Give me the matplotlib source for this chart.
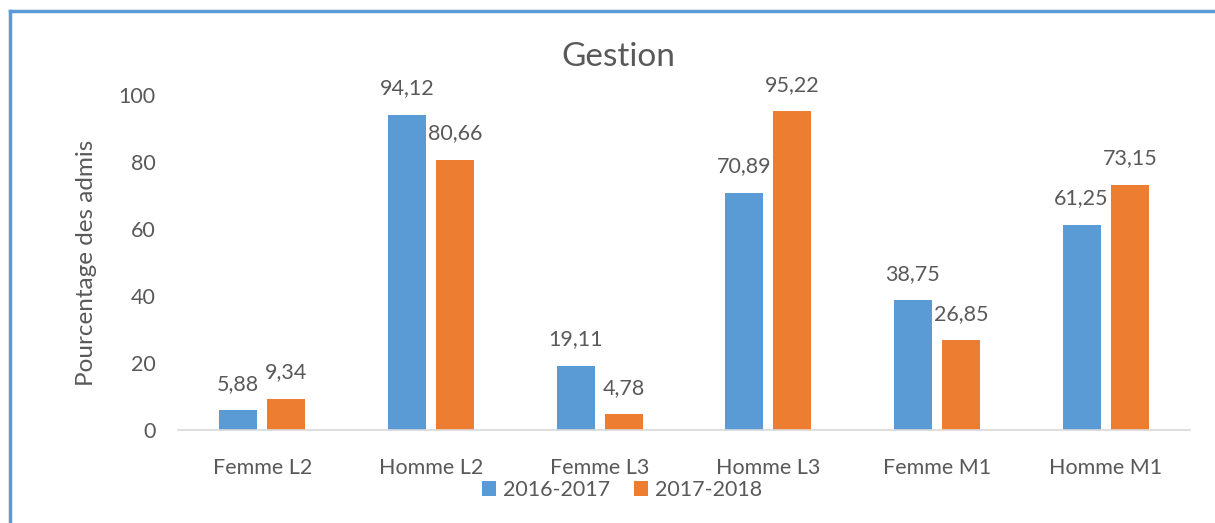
import matplotlib

matplotlib.use("Agg")
import matplotlib.pyplot as plt
import numpy as np
from matplotlib.lines import Line2D

categories = ["Femme L2", "Homme L2", "Femme L3", "Homme L3", "Femme M1", "Homme M1"]
series_names = ["2016-2017", "2017-2018"]
values_2016 = [5.88, 94.12, 19.11, 70.89, 38.75, 61.25]
values_2017 = [9.34, 80.66, 4.78, 95.22, 26.85, 73.15]
yticks = [0, 20, 40, 60, 80, 100]

BLUE = "#5B9BD5"
ORANGE = "#ED7D31"
TEXT = "#595959"
FS = 15.5

plt.rcParams["font.family"] = ["Lato", "DejaVu Sans"]


def fmt(v: float) -> str:
    return f"{v:.2f}".replace(".", ",")


fig = plt.figure(figsize=(12.15, 5.23), dpi=100)
ax = fig.add_axes([178 / 1215, 1 - 430 / 523, (1190 - 178) / 1215, (430 - 95) / 523])

x = np.arange(len(categories))
width = 0.225
offset = 0.143
bars = []
for vals, color, sign in ((values_2016, BLUE, -1), (values_2017, ORANGE, 1)):
    b = ax.bar(x + sign * offset, vals, width=width, color=color, zorder=2)
    bars.append(b)
    for rect, v in zip(b, vals):
        ax.annotate(
            fmt(v),
            (rect.get_x() + rect.get_width() / 2, rect.get_height()),
            xytext=(0, 19), textcoords="offset points",
            ha="center", va="center", fontsize=FS, color=TEXT,
            annotation_clip=False,
        )

ax.set_xlim(-0.5, len(categories) - 0.5)
ax.set_ylim(0, 100)
ax.set_yticks(yticks)
ax.set_yticklabels([str(t) for t in yticks])
ax.set_xticks(x)
ax.set_xticklabels(categories)
ax.tick_params(axis="both", length=0, labelsize=FS, labelcolor=TEXT)
ax.tick_params(axis="x", pad=20)
ax.tick_params(axis="y", pad=16)
for side in ("top", "right", "left"):
    ax.spines[side].set_visible(False)
ax.spines["bottom"].set_color("#D9D9D9")
ax.spines["bottom"].set_linewidth(1.2)

ax.set_ylabel("Pourcentage des admis", fontsize=17.5, color=TEXT)
ax.yaxis.set_label_coords((97 - 178) / (1190 - 178), 0.5)
fig.text(618 / 1215, 1 - 57 / 523, "Gestion", ha="center", va="center",
         fontsize=24, color=TEXT)

fig.legend(bars, series_names, loc="center", bbox_to_anchor=(622 / 1215, 1 - 490 / 523),
           ncol=2, frameon=False, fontsize=FS, labelcolor=TEXT,
           handlelength=0.65, handleheight=0.65, handletextpad=0.35, columnspacing=1.1)

# chart border (top and left edges visible)
fig.add_artist(Line2D([10 / 1215, 1], [1 - 11 / 523, 1 - 11 / 523],
                      transform=fig.transFigure, color=BLUE, linewidth=2.5))
fig.add_artist(Line2D([10 / 1215, 10 / 1215], [0, 1 - 11 / 523],
                      transform=fig.transFigure, color=BLUE, linewidth=2.5))

fig.savefig("out.png", dpi=100)
